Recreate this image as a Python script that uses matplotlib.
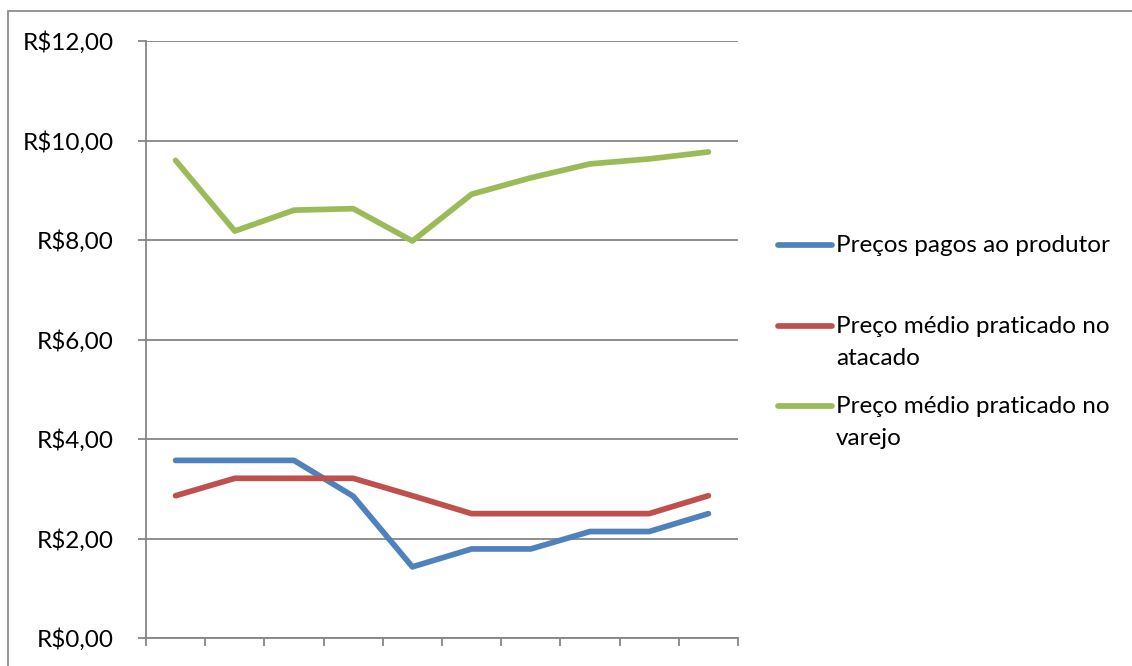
import matplotlib
matplotlib.use("Agg")
import matplotlib.pyplot as plt
from matplotlib.lines import Line2D
from matplotlib.patches import Rectangle
from matplotlib.ticker import FuncFormatter, FixedLocator

plt.rcParams['font.family'] = ['Lato', 'DejaVu Sans']

periods = list(range(10))
produtor = [3.57, 3.57, 3.57, 2.85, 1.43, 1.79, 1.79, 2.14, 2.14, 2.50]
atacado = [2.86, 3.21, 3.21, 3.21, 2.86, 2.50, 2.50, 2.50, 2.50, 2.86]
varejo = [9.60, 8.18, 8.60, 8.63, 7.98, 8.92, 9.25, 9.53, 9.63, 9.77]

series_labels = ["Preços pagos ao produtor",
                 "Preço médio praticado no\natacado",
                 "Preço médio praticado no\nvarejo"]
series_colors = ["#4F81BD", "#C0504D", "#9BBB59"]

W, H = 1132, 666
DPI = 100
FS = 17.5
LW = 4.1
fig = plt.figure(figsize=(W / DPI, H / DPI), dpi=DPI)
fig.patch.set_facecolor("white")

# outer chart frame
fig.add_artist(Rectangle((8 / W, -0.1), 1.2, 1 - 11 / H + 0.1,
                         transform=fig.transFigure, fill=False,
                         edgecolor="#8C8C8C", linewidth=1.3))

GRAY = "#868686"
ax = fig.add_axes([146 / W, (H - 638) / H, (738 - 146) / W, (638 - 41) / H])
for vals, color in zip([produtor, atacado, varejo], series_colors):
    ax.plot(periods, vals, color=color, linewidth=LW,
            solid_capstyle="round", solid_joinstyle="round", zorder=3)

ax.set_xlim(-0.5, 9.5)
ax.set_ylim(0, 12)
ax.yaxis.set_major_locator(FixedLocator([0, 2, 4, 6, 8, 10, 12]))
ax.yaxis.set_major_formatter(FuncFormatter(lambda v, p: f"R${v:.2f}".replace(".", ",")))
ax.xaxis.set_major_locator(FixedLocator([i - 0.5 for i in range(11)]))
ax.set_xticklabels([])
ax.grid(axis="y", color=GRAY, linewidth=1.3, zorder=1)
ax.set_axisbelow(True)
for s in ["top", "right"]:
    ax.spines[s].set_visible(False)
for s in ["left", "bottom"]:
    ax.spines[s].set_color(GRAY)
    ax.spines[s].set_linewidth(1.3)
ax.tick_params(axis="y", direction="out", length=6, width=1.3, color=GRAY,
               pad=17, labelsize=FS, labelcolor="black")
ax.tick_params(axis="x", direction="out", length=6, width=1.3, color=GRAY)

# legend on the right
legend_rows = [245, 326, 406]
for label, color, yc in zip(series_labels, series_colors, legend_rows):
    yf = 1 - yc / H
    fig.add_artist(Line2D([778 / W, 832 / W], [yf, yf], transform=fig.transFigure,
                          color=color, linewidth=LW, solid_capstyle="round"))
    fig.text(836 / W, 1 - (yc - 10) / H, label, fontsize=FS, va="top", ha="left",
             linespacing=1.65, color="black")

fig.savefig("out.png", dpi=DPI)
